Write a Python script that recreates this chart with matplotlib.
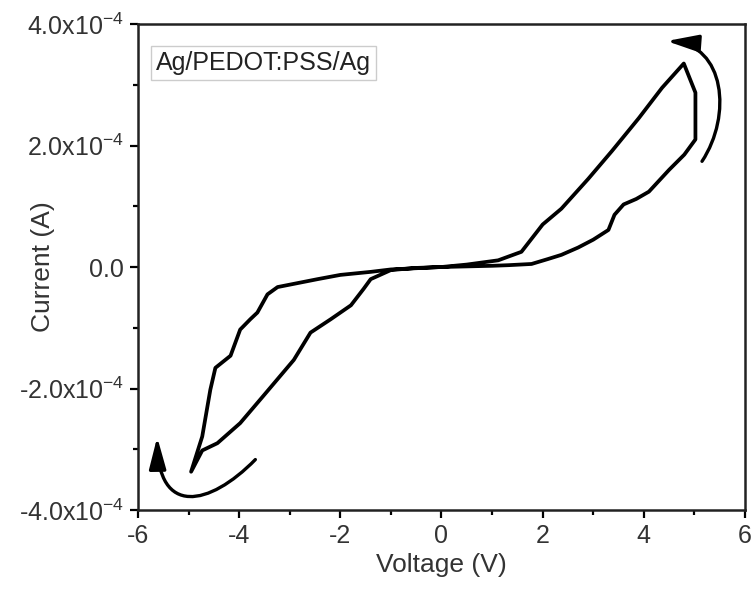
import matplotlib
matplotlib.use("Agg")
import matplotlib.pyplot as plt
from matplotlib.patches import FancyArrowPatch
from matplotlib.path import Path
from matplotlib.ticker import MultipleLocator

plt.rcParams['font.family'] = ['Liberation Sans', 'DejaVu Sans']
plt.rcParams['mathtext.fontset'] = 'custom'
plt.rcParams['mathtext.rm'] = 'Liberation Sans'
plt.rcParams['mathtext.it'] = 'Liberation Sans'

# I-V hysteresis loop (voltage in V, current in A)
voltage = [0.0, 0.5, 1.0, 1.32, 1.78, 2.1, 2.37, 2.7, 3.0, 3.3, 3.42, 3.6, 3.85, 4.1, 4.5,
           4.8, 5.02, 5.02, 5.02, 4.79,
           4.36, 3.9, 3.37, 2.9, 2.37, 2.0, 1.58, 1.12, 0.5, 0.0,
           -0.5, -1.0, -1.4, -2.0, -2.45, -3.24, -3.44, -3.64, -3.78, -3.98,
           -4.17, -4.47, -4.57, -4.73, -4.95,
           -4.73, -4.43, -3.98, -3.52, -2.92, -2.59, -2.19, -1.79, -1.54, -1.4, -1.0,
           -0.5, 0.0]
current = [0.0, 1.0e-6, 2.0e-6, 3.0e-6, 5.0e-6, 13e-6, 20e-6, 32e-6, 45e-6, 61e-6, 86e-6, 103e-6, 112e-6, 124e-6, 160e-6,
           185e-6, 210e-6, 250e-6, 287e-6, 335e-6,
           295e-6, 245e-6, 191e-6, 145e-6, 96e-6, 70e-6, 25e-6, 11e-6, 4e-6, 0.0,
           -2e-6, -4e-6, -8e-6, -13e-6, -20e-6, -33e-6, -45e-6, -75e-6, -86e-6, -103e-6,
           -146e-6, -166e-6, -202e-6, -279e-6, -337e-6,
           -302e-6, -290e-6, -257e-6, -212e-6, -153e-6, -108e-6, -86e-6, -63e-6, -36e-6, -20e-6, -5e-6,
           -1.5e-6, 0.0]

x_ticks = [-6, -4, -2, 0, 2, 4, 6]
x_tick_labels = ['-6', '-4', '-2', '0', '2', '4', '6']
y_ticks = [-4e-4, -2e-4, 0.0, 2e-4, 4e-4]
y_tick_labels = [r'-4.0x10$^{\mathregular{-4}}$', r'-2.0x10$^{\mathregular{-4}}$', '0.0',
                 r'2.0x10$^{\mathregular{-4}}$', r'4.0x10$^{\mathregular{-4}}$']

# Sweep-direction arrows as cubic Bezier curves (start, control, control, tip), data coordinates
sweep_arrow_pos = [(5.15, 1.74e-4), (5.75, 2.5e-4), (5.6, 3.65e-4), (4.45, 3.72e-4)]
sweep_arrow_neg = [(-3.68, -3.17e-4), (-4.6, -3.95e-4), (-5.6, -4.1e-4), (-5.62, -2.8e-4)]

text_color = '#333333'

fig = plt.figure(figsize=(7.52, 5.96), dpi=100)
ax = fig.add_axes([0.1835, 0.1443, 0.8072, 0.8154])

ax.plot(voltage, current, color='black', lw=2.7, solid_joinstyle='round')

ax.set_xlim(-6, 6)
ax.set_ylim(-4e-4, 4e-4)
ax.set_xticks(x_ticks)
ax.set_xticklabels(x_tick_labels)
ax.set_yticks(y_ticks)
ax.set_yticklabels(y_tick_labels)
ax.xaxis.set_minor_locator(MultipleLocator(1))
ax.yaxis.set_minor_locator(MultipleLocator(1e-4))
ax.tick_params(which='major', direction='out', length=6, width=1.6,
               labelsize=18, colors='black', labelcolor=text_color, pad=4)
ax.tick_params(which='minor', direction='out', length=3.5, width=1.6)
ax.tick_params(top=False, right=False)
for s in ax.spines.values():
    s.set_linewidth(1.8)
    s.set_color('#222222')

ax.set_xlabel('Voltage (V)', fontsize=19, color=text_color, labelpad=4)
ax.set_ylabel('Current (A)', fontsize=19, color=text_color)
ax.yaxis.set_label_coords(-0.137, 0.5)

ax.text(0.029, 0.945, 'Ag/PEDOT:PSS/Ag', transform=ax.transAxes, fontsize=18,
        color='#222222', va='top', ha='left',
        bbox=dict(boxstyle='square,pad=0.2', fc='white', ec='#cccccc', lw=1))

codes = [Path.MOVETO, Path.CURVE4, Path.CURVE4, Path.CURVE4]
for pts in (sweep_arrow_pos, sweep_arrow_neg):
    ax.add_patch(FancyArrowPatch(path=Path(pts, codes),
                                 arrowstyle='-|>,head_length=12,head_width=3.2',
                                 color='black', lw=2.4, mutation_scale=1.6))

fig.savefig('out.png', dpi=100)
